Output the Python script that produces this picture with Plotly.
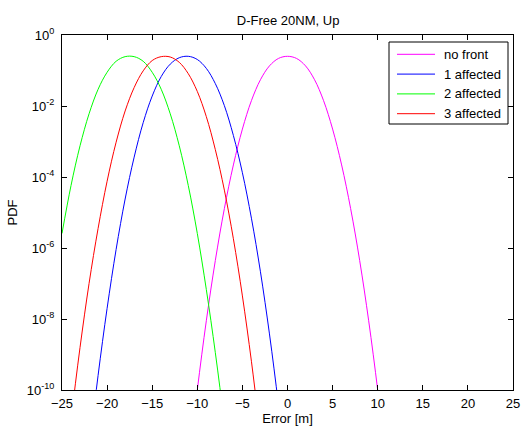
import numpy as np
import plotly.graph_objects as go

# Error axis samples [m] and log10(PDF) read per curve
x_no_front = [-11, -10, -9, -8, -7, -6, -5, -4, -3, -2, -1, 0,
              1, 2, 3, 4, 5, 6, 7, 8, 9, 10, 11]
log_pdf_no_front = [-12.19, -10.00, -8.05, -6.35, -4.89, -3.66, -2.65, -1.85, -1.26, -0.87, -0.66, -0.60,
                    -0.66, -0.87, -1.26, -1.85, -2.65, -3.66, -4.89, -6.35, -8.05, -10.00, -12.19]

x_1_affected = [-22, -21, -20, -19, -18, -17, -16, -15, -14, -13, -12, -11,
                -10, -9, -8, -7, -6, -5, -4, -3, -2, -1, 0]
log_pdf_1_affected = [-11.73, -9.59, -7.70, -6.04, -4.62, -3.44, -2.47, -1.72, -1.17, -0.82, -0.64, -0.60,
                      -0.69, -0.94, -1.37, -1.99, -2.83, -3.88, -5.16, -6.67, -8.42, -10.42, -12.66]

x_2_affected = [-25, -24, -23, -22, -21, -20, -19, -18, -17, -16,
                -15, -14, -13, -12, -11, -10, -9, -8, -7, -6]
log_pdf_2_affected = [-5.59, -4.24, -3.12, -2.22, -1.53, -1.05, -0.74, -0.61, -0.61, -0.74,
                      -1.05, -1.53, -2.22, -3.12, -4.24, -5.59, -7.17, -8.95, -10.95, -13.2]

x_3_affected = [-25, -24, -23, -22, -21, -20, -19, -18, -17, -16, -15, -14,
                -13, -12, -11, -10, -9, -8, -7, -6, -5, -4, -3]
log_pdf_3_affected = [-13.14, -10.85, -8.80, -7.00, -5.45, -4.12, -3.02, -2.14, -1.48, -1.01, -0.72, -0.61,
                      -0.62, -0.77, -1.09, -1.59, -2.30, -3.23, -4.37, -5.74, -7.35, -9.19, -11.29]

series_names = ["no front", "1 affected", "2 affected", "3 affected"]
series_colors = ["#ff00ff", "#0000ff", "#00ff00", "#ff0000"]

y_tick_exponents = [0, -2, -4, -6, -8, -10]
x_tick_values = [-25, -20, -15, -10, -5, 0, 5, 10, 15, 20, 25]

FONT = "Liberation Sans, Arial, Helvetica, sans-serif"
FS = 13

W, H = 521, 427
M_L, M_R, M_T, M_B = 62, 8, 35, 37
PLOT_W, PLOT_H = W - M_L - M_R, H - M_T - M_B


def paper_x(px):
    return (px - M_L) / PLOT_W


def paper_y(py):
    return (H - M_B - py) / PLOT_H


fig = go.Figure()
for name, color, xs, ls in zip(
    series_names,
    series_colors,
    [x_no_front, x_1_affected, x_2_affected, x_3_affected],
    [log_pdf_no_front, log_pdf_1_affected, log_pdf_2_affected, log_pdf_3_affected],
):
    fig.add_trace(go.Scatter(
        x=xs,
        y=10.0 ** np.array(ls),
        mode="lines",
        name=name,
        showlegend=False,
        line=dict(color=color, width=1, shape="spline"),
    ))

# Boxed legend in the upper right corner, MATLAB style (long line samples)
LEG_LEFT, LEG_RIGHT, LEG_TOP, LEG_BOTTOM = 389, 508, 42, 124
ROW_FIRST, ROW_STEP = 54.3, 19.8
SAMPLE_X0, SAMPLE_X1, TEXT_X = 397, 435, 442

shapes = [dict(type="rect", xref="paper", yref="paper",
               x0=paper_x(LEG_LEFT), x1=paper_x(LEG_RIGHT),
               y0=paper_y(LEG_BOTTOM), y1=paper_y(LEG_TOP),
               line=dict(color="black", width=1), fillcolor="white", layer="above")]
annotations = []
for i, (name, color) in enumerate(zip(series_names, series_colors)):
    row_y = paper_y(ROW_FIRST + i * ROW_STEP)
    shapes.append(dict(type="line", xref="paper", yref="paper",
                       x0=paper_x(SAMPLE_X0), x1=paper_x(SAMPLE_X1), y0=row_y, y1=row_y,
                       line=dict(color=color, width=1), layer="above"))
    annotations.append(dict(xref="paper", yref="paper", x=paper_x(TEXT_X), y=row_y,
                            xanchor="left", yanchor="middle", showarrow=False,
                            text=name, font=dict(family=FONT, size=FS, color="black")))

axis_common = dict(
    showline=True, linecolor="black", linewidth=1, mirror="ticks",
    ticks="inside", ticklen=5, tickcolor="black", tickwidth=1,
    showgrid=False, zeroline=False, automargin=False,
    tickfont=dict(family=FONT, size=FS, color="black"),
)

fig.update_layout(
    width=W, height=H,
    margin=dict(l=M_L, r=M_R, t=M_T, b=M_B),
    paper_bgcolor="white", plot_bgcolor="white",
    font=dict(family=FONT, size=FS, color="black"),
    title=dict(text="D-Free 20NM, Up", x=0.553, xanchor="center",
               yref="container", y=1 - 20 / H, yanchor="middle",
               font=dict(family=FONT, size=FS)),
    xaxis=dict(range=[-25, 25], tickvals=x_tick_values, ticklabelstandoff=1,
               title=dict(text="Error [m]", standoff=4, font=dict(family=FONT, size=FS)),
               **axis_common),
    yaxis=dict(type="log", range=[-10, 0],
               tickvals=[10.0 ** e for e in y_tick_exponents],
               ticktext=[f"10<sup>{e}</sup>" for e in y_tick_exponents],
               ticklabelstandoff=4,
               title=dict(text="PDF", standoff=6, font=dict(family=FONT, size=FS)),
               **axis_common),
    shapes=shapes,
    annotations=annotations,
    showlegend=False,
)

fig.write_html("out.html")
